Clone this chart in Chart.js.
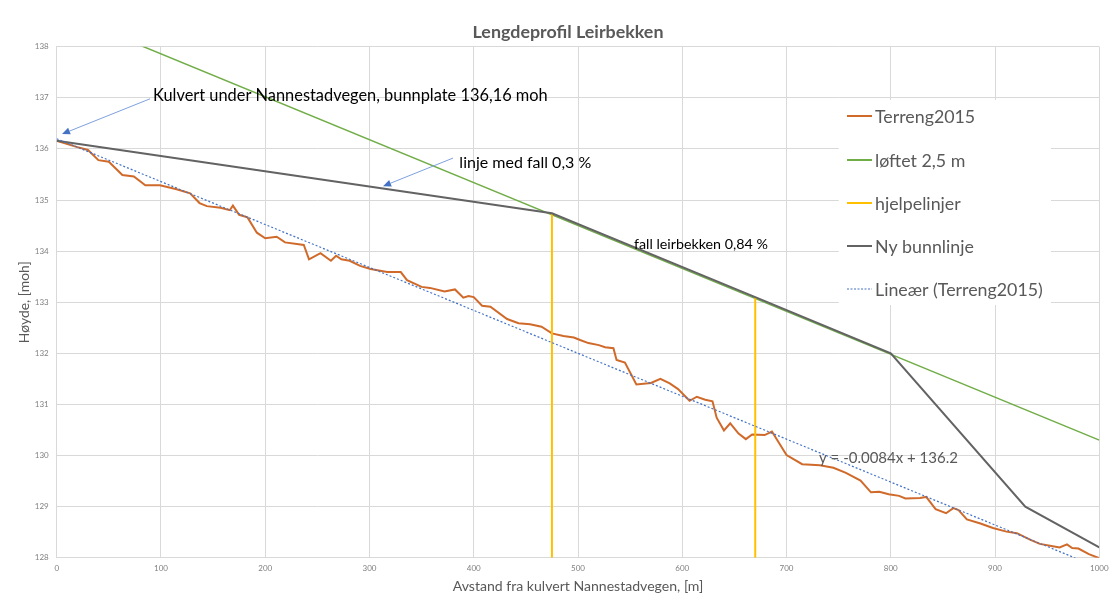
<!DOCTYPE html>
<html>
<head>
<meta charset="utf-8">
<script src="https://cdn.jsdelivr.net/npm/chart.js@4.4.1/dist/chart.umd.min.js"></script>
<style>
  html, body { margin: 0; padding: 0; background: #ffffff; }
  #wrap { width: 1115px; height: 596px; position: relative; }
</style>
</head>
<body>
<div id="wrap"><canvas id="c" width="1115" height="596"></canvas></div>
<script>
// ---------------- DATA ----------------
const chartTitle = 'Lengdeprofil Leirbekken';
const xAxisTitle = 'Avstand fra kulvert Nannestadvegen, [m]';
const yAxisTitle = 'Høyde, [moh]';
const seriesNames = ['Terreng2015', 'løftet 2,5 m', 'hjelpelinjer', 'Ny bunnlinje', 'Lineær (Terreng2015)'];

const terrainX = [0,19,30,40,50,63,74,85,99,115,128,137,144,157,166,169,175,183,192,200,211,219,237,242,253,263,268,273,281,291,301,317,330,336,350,358,372,382,390,395,400,408,416,432,443,454,465,475,486,496,502,510,520,526,534,537,545,556,570,579,588,596,607,614,622,629,633,640,646,654,661,667,679,686,700,715,732,745,757,771,781,789,798,808,814,828,834,843,853,860,865,873,886,898,911,921,934,943,954,962,969,974,980,990,1000];
const terrainY = [136.16,136.04,135.98,135.78,135.75,135.49,135.46,135.29,135.29,135.21,135.13,134.94,134.88,134.85,134.80,134.89,134.71,134.66,134.36,134.25,134.28,134.17,134.12,133.84,133.96,133.81,133.91,133.84,133.81,133.71,133.65,133.59,133.59,133.43,133.30,133.28,133.21,133.25,133.09,133.12,133.10,132.93,132.91,132.67,132.59,132.57,132.52,132.39,132.34,132.31,132.26,132.20,132.16,132.12,132.10,131.87,131.82,131.39,131.42,131.50,131.41,131.30,131.07,131.15,131.09,131.06,130.74,130.49,130.63,130.43,130.32,130.41,130.40,130.47,130.01,129.83,129.81,129.76,129.66,129.51,129.28,129.29,129.24,129.21,129.16,129.17,129.19,128.95,128.87,128.97,128.93,128.75,128.67,128.58,128.51,128.48,128.35,128.27,128.23,128.20,128.26,128.19,128.18,128.07,127.99];

const liftX = [0, 1000];
const liftY = [138.70, 130.30];

const helperX = [475, 475, null, 670, 670];
const helperY = [128, 134.74, null, 128, 133.10];

const bedX = [0, 475, 670, 800, 929, 1000];
const bedY = [136.16, 134.74, 133.10, 132.00, 129.00, 128.20];

const trendX = [0, 1000];
const trendY = [136.2, 127.8];

const xTicks = [0,100,200,300,400,500,600,700,800,900,1000];
const yTicks = [128,129,130,131,132,133,134,135,136,137,138];

const notes = [
  { text: 'Kulvert under Nannestadvegen, bunnplate 136,16 moh', x: 92.4, y: 137.05 },
  { text: 'linje med fall 0,3 %', x: 386.2, y: 135.73 },
  { text: 'fall leirbekken 0,84 %', x: 553.7, y: 134.14 },
  { text: 'y = -0.0084x + 136.2', x: 731.2, y: 129.95 }
];
const arrows = [
  { x1: 89.5, y1: 136.98, x2: 5.1, y2: 136.29 },
  { x1: 380.1, y1: 135.82, x2: 313.0, y2: 135.27 }
];

// ---------------- STYLE ----------------
const FAMILY = 'Lato, "Open Sans", "DejaVu Sans", sans-serif';
const colors = ['#D06A2A', '#70AD47', '#FFC000', '#636363', '#4472C4'];

const measureCtx = document.createElement('canvas').getContext('2d');
function fitSize(text, weight, target) {
  measureCtx.font = weight + ' 100px ' + FAMILY;
  return 100 * target / measureCtx.measureText(text).width;
}
const titleSize = fitSize(chartTitle, 'bold', 191);
const xTitleSize = fitSize(xAxisTitle, 'normal', 251);
const yTitleSize = fitSize(yAxisTitle, 'normal', 82);
const legendSize = fitSize(seriesNames[4], 'normal', 168);
const noteSizes = [
  fitSize(notes[0].text, 'normal', 395),
  fitSize(notes[1].text, 'normal', 132),
  fitSize(notes[2].text, 'normal', 134),
  fitSize(notes[3].text, 'normal', 139)
];
const noteColors = ['#000000', '#000000', '#000000', '#595959'];

function pts(xs, ys) {
  return xs.map((x, i) => ({ x: x === null ? 572 : x, y: ys[i] }));
}

// ---------------- PLUGIN ----------------
const extras = {
  id: 'extras',
  beforeDraw(chart) {
    const ctx = chart.ctx;
    ctx.save();
    ctx.fillStyle = '#ffffff';
    ctx.fillRect(0, 0, chart.width, chart.height);
    ctx.restore();
  },
  afterDraw(chart) {
    const ctx = chart.ctx;
    const xs = chart.scales.x, ys = chart.scales.y;
    ctx.save();
    // title
    ctx.fillStyle = '#595959';
    ctx.font = 'bold ' + titleSize + 'px ' + FAMILY;
    ctx.textAlign = 'center';
    ctx.textBaseline = 'middle';
    ctx.fillText(chartTitle, (xs.left + xs.right) / 2 - 10, 32);

    // arrows
    arrows.forEach(a => {
      const x1 = xs.getPixelForValue(a.x1), y1 = ys.getPixelForValue(a.y1);
      const x2 = xs.getPixelForValue(a.x2), y2 = ys.getPixelForValue(a.y2);
      const ang = Math.atan2(y2 - y1, x2 - x1);
      const L = 8, W = 3.5;
      const bx = x2 - L * Math.cos(ang), by = y2 - L * Math.sin(ang);
      ctx.strokeStyle = '#7EA1DD';
      ctx.lineWidth = 1;
      ctx.beginPath();
      ctx.moveTo(x1, y1);
      ctx.lineTo(bx, by);
      ctx.stroke();
      ctx.fillStyle = '#4472C4';
      ctx.beginPath();
      ctx.moveTo(x2, y2);
      ctx.lineTo(bx + W * Math.sin(ang), by - W * Math.cos(ang));
      ctx.lineTo(bx - W * Math.sin(ang), by + W * Math.cos(ang));
      ctx.closePath();
      ctx.fill();
    });

    // notes
    ctx.textAlign = 'left';
    notes.forEach((n, i) => {
      ctx.fillStyle = noteColors[i];
      ctx.font = noteSizes[i] + 'px ' + FAMILY;
      ctx.fillText(n.text, xs.getPixelForValue(n.x), ys.getPixelForValue(n.y));
    });

    // legend
    const bx0 = 839, by0 = 100, bw = 212, bh = 205;
    ctx.fillStyle = '#ffffff';
    ctx.fillRect(bx0, by0, bw, bh);
    const itemY = [116, 160, 203, 246, 289];
    ctx.font = legendSize + 'px ' + FAMILY;
    seriesNames.forEach((name, i) => {
      const y = itemY[i];
      ctx.strokeStyle = colors[i];
      ctx.lineWidth = i === 4 ? 1.2 : 2;
      ctx.setLineDash(i === 4 ? [2, 1.5] : []);
      ctx.beginPath();
      ctx.moveTo(847, y);
      ctx.lineTo(872, y);
      ctx.stroke();
      ctx.setLineDash([]);
      ctx.fillStyle = '#595959';
      ctx.fillText(name, 875, y + 1);
    });
    ctx.restore();
  }
};

// ---------------- CHART ----------------
const ctx = document.getElementById('c').getContext('2d');
new Chart(ctx, {
  type: 'scatter',
  data: {
    datasets: [
      { label: seriesNames[0], data: pts(terrainX, terrainY), borderColor: colors[0], borderWidth: 2, showLine: true, pointRadius: 0, tension: 0, order: 4 },
      { label: seriesNames[1], data: pts(liftX, liftY), borderColor: colors[1], borderWidth: 1.5, showLine: true, pointRadius: 0, order: 3 },
      { label: seriesNames[2], data: pts(helperX, helperY), borderColor: colors[2], borderWidth: 2, showLine: true, pointRadius: 0, spanGaps: false, order: 2 },
      { label: seriesNames[3], data: pts(bedX, bedY), borderColor: colors[3], borderWidth: 2, showLine: true, pointRadius: 0, order: 1 },
      { label: seriesNames[4], data: pts(trendX, trendY), borderColor: colors[4], borderWidth: 1.2, borderDash: [2, 2], showLine: true, pointRadius: 0, order: 0 }
    ]
  },
  options: {
    responsive: false,
    animation: false,
    devicePixelRatio: 1,
    layout: { padding: { left: 0, right: 15.7, top: 46.7, bottom: 0 } },
    plugins: { legend: { display: false }, title: { display: false }, tooltip: { enabled: false } },
    scales: {
      x: {
        type: 'linear', min: 0, max: 1000,
        afterBuildTicks: s => { s.ticks = xTicks.map(v => ({ value: v })); },
        afterFit: s => { s.height = 38.3; },
        grid: { color: '#D9D9D9', lineWidth: 1, drawTicks: false },
        border: { color: '#D9D9D9' },
        ticks: { font: { size: 8, family: FAMILY }, color: '#808080', padding: 5.5, maxRotation: 0, autoSkip: false, callback: v => String(v) },
        title: { display: true, text: xAxisTitle, color: '#595959', font: { size: xTitleSize, family: FAMILY }, padding: { top: 0, bottom: 1.5 } }
      },
      y: {
        type: 'linear', min: 128, max: 138,
        afterBuildTicks: s => { s.ticks = yTicks.map(v => ({ value: v })); },
        afterFit: s => { s.width = 56.7; },
        grid: { color: '#D9D9D9', lineWidth: 1, drawTicks: false },
        border: { color: '#D9D9D9' },
        ticks: { font: { size: 8, family: FAMILY }, color: '#808080', padding: 8, autoSkip: false, callback: v => String(v) },
        title: { display: true, text: yAxisTitle, color: '#595959', font: { size: yTitleSize, family: FAMILY }, padding: { top: 16.5, bottom: 0 } }
      }
    }
  },
  plugins: [extras]
});
</script>
</body>
</html>
